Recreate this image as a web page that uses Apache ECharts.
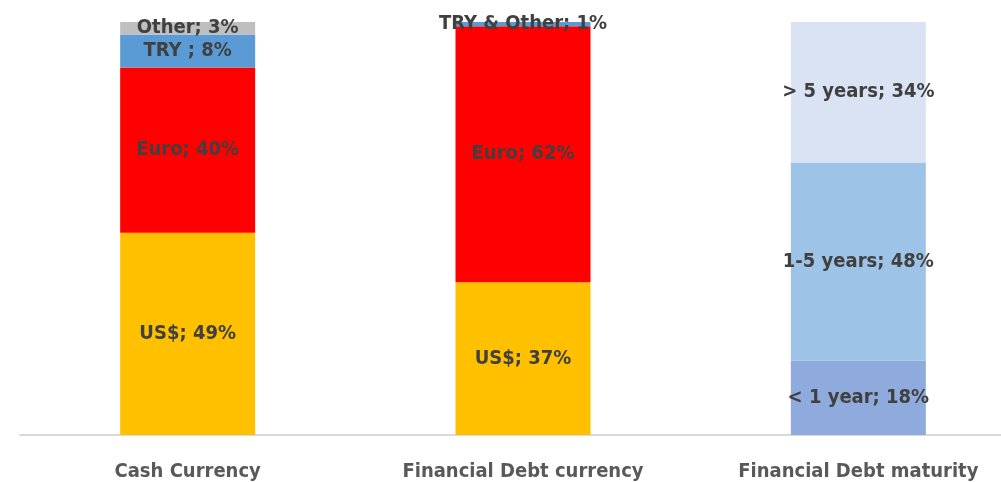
<!DOCTYPE html>
<html>
<head>
<meta charset="utf-8">
<script src="https://cdn.jsdelivr.net/npm/echarts@6/dist/echarts.min.js"></script>
<style>
html,body{margin:0;padding:0;background:#fff;overflow:hidden;width:1001px;height:482px;}
#chart{width:1026px;height:482px;}
</style>
</head>
<body>
<div id="chart"></div>
<script>
const categories = ['Cash Currency', 'Financial Debt currency', 'Financial Debt maturity'];
// stacked segments, bottom to top
const segNames  = ['US$', 'Euro', 'TRY', 'Other', 'TRY & Other', '< 1 year', '1-5 years', '> 5 years'];
const segLabels = ['US$', 'Euro', 'TRY ', 'Other', 'TRY & Other', '< 1 year', '1-5 years', '> 5 years'];
const usd        = [49, 37, null];
const euro       = [40, 62, null];
const tryCur     = [8, null, null];
const other      = [3, null, null];
const tryOther   = [null, 1, null];
const lessOne    = [null, null, 18];
const oneToFive  = [null, null, 48];
const moreFive   = [null, null, 34];
const segValues = [usd, euro, tryCur, other, tryOther, lessOne, oneToFive, moreFive];
const segColors = ['#FFC000', '#FF0000', '#5B9BD5', '#BFBFBF', '#5B9BD5', '#8FAADC', '#9DC3E6', '#DAE3F3'];

const FONT = "'Liberation Sans Narrow', 'DejaVu Sans Condensed', 'Arial Narrow', sans-serif";

const series = segNames.map((n, i) => ({
  name: n,
  type: 'bar',
  stack: 'total',
  barWidth: 135,
  data: segValues[i].map(v => v === null ? '-' : v),
  itemStyle: { color: segColors[i] },
  label: {
    show: true,
    position: 'inside',
    formatter: p => segLabels[i] + '; ' + p.value + '%',
    color: '#404040',
    fontFamily: FONT,
    fontWeight: 'bold',
    fontSize: 20
  },
  emphasis: { disabled: true }
}));

const chart = echarts.init(document.getElementById('chart'), null, { renderer: 'canvas' });
chart.setOption({
  animation: false,
  backgroundColor: '#ffffff',
  grid: { left: 20, right: 0, top: 22, height: 413, containLabel: false },
  xAxis: {
    type: 'category',
    data: categories,
    axisLine: { lineStyle: { color: '#D9D9D9', width: 2 } },
    axisTick: { show: false },
    axisLabel: {
      interval: 0,
      color: '#595959',
      fontFamily: FONT,
      fontWeight: 'bold',
      fontSize: 20,
      margin: 27
    }
  },
  yAxis: {
    type: 'value',
    min: 0,
    max: 100,
    show: false,
    splitLine: { show: false }
  },
  series: series
});
</script>
</body>
</html>
